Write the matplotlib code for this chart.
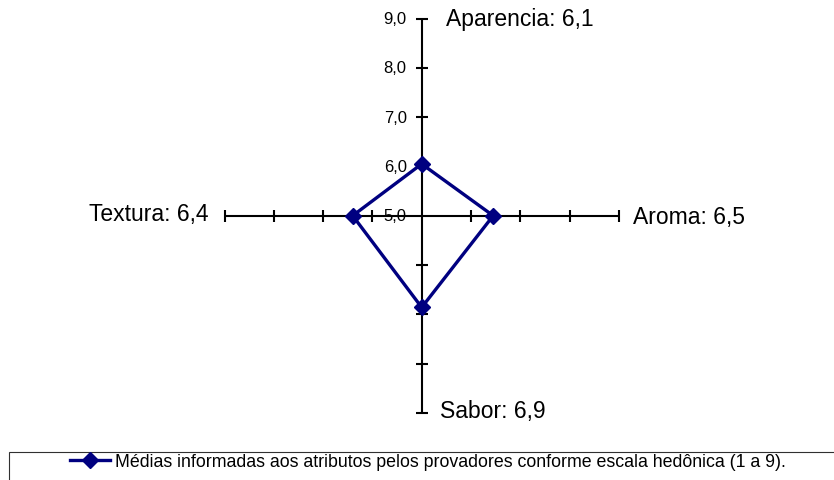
import matplotlib.pyplot as plt
import matplotlib.patches as mpatches
import numpy as np

plt.switch_backend('agg')
plt.rcParams['font.family'] = ['Liberation Sans', 'DejaVu Sans']

# attributes, clockwise from the top spoke
categories = ['Aparencia', 'Aroma', 'Sabor', 'Textura']
angles_deg = [90, 0, -90, 180]
# plotted means
values = [6.05, 6.45, 6.86, 6.40]
# means as written next to each spoke
shown_means = ['6,1', '6,5', '6,9', '6,4']

scale_ticks = [5.0, 6.0, 7.0, 8.0, 9.0]
scale_labels = ['5,0', '6,0', '7,0', '8,0', '9,0']

legend_label = 'Médias informadas aos atributos pelos provadores conforme escala hedônica (1 a 9).'

r_min, r_max = scale_ticks[0], scale_ticks[-1]
series_color = '#000080'

# pixel layout of the original Excel chart
W, H = 834, 481
cx, cy = 421.7, 216.7   # centre of the radar, px from top-left
unit = 49.3             # px per scale unit

fig = plt.figure(figsize=(W / 100, H / 100), dpi=100)
ax = fig.add_axes([0, 0, 1, 1])
ax.axis('off')
ax.set_xlim(-cx / unit, (W - cx) / unit)
ax.set_ylim(-(H - cy) / unit, cy / unit)

angles = np.deg2rad(angles_deg)

# spokes with tick marks
for a in angles:
    ex, ey = (r_max - r_min) * np.cos(a), (r_max - r_min) * np.sin(a)
    ax.plot([0, ex], [0, ey], color='black', lw=1.5, solid_capstyle='butt', zorder=1)
    tr = np.array(scale_ticks[1:]) - r_min
    tick_marker = '_' if abs(np.cos(a)) < 0.5 else '|'
    ax.plot(tr * np.cos(a), tr * np.sin(a), ls='none', marker=tick_marker,
            markersize=9, markeredgewidth=1.5, color='black', zorder=1)

# scale labels on the top spoke
for t, lab in zip(scale_ticks, scale_labels):
    ax.annotate(lab, xy=(0, t - r_min), xytext=(-15, 0), textcoords='offset pixels',
                ha='right', va='center', fontsize=12, zorder=2)

# category labels at the end of each spoke
label_offsets = [(24, 0, 'left'), (14, -1, 'left'), (18, 2, 'left'), (-16, 2, 'right')]
for a, cat, m, (dx, dy, ha) in zip(angles, categories, shown_means, label_offsets):
    ex, ey = (r_max - r_min) * np.cos(a), (r_max - r_min) * np.sin(a)
    ax.annotate(f'{cat}: {m}', xy=(ex, ey), xytext=(dx, dy), textcoords='offset pixels',
                ha=ha, va='center', fontsize=16.5)

# the series, closed polygon
r = np.array(values) - r_min
xs = np.append(r * np.cos(angles), r[0] * np.cos(angles[0]))
ys = np.append(r * np.sin(angles), r[0] * np.sin(angles[0]))
line, = ax.plot(xs, ys, color=series_color, lw=2.4, marker='D', markersize=8,
                markevery=list(range(len(values))), zorder=3)

# legend box (runs off the right and bottom edges like the original)
box_top = 1 - 453 / H
fig.add_artist(mpatches.Rectangle((9 / W, -0.1), 1.1, box_top + 0.1, transform=fig.transFigure,
                                  fill=False, edgecolor='#303030', lw=0.8))
fig.legend(handles=[line], labels=[legend_label], loc='center',
           bbox_to_anchor=(427.5 / W, 1 - 463 / H), frameon=False, fontsize=12.8,
           handlelength=2.25, handletextpad=0.28, borderpad=0)

fig.savefig('out.png', dpi=100)
